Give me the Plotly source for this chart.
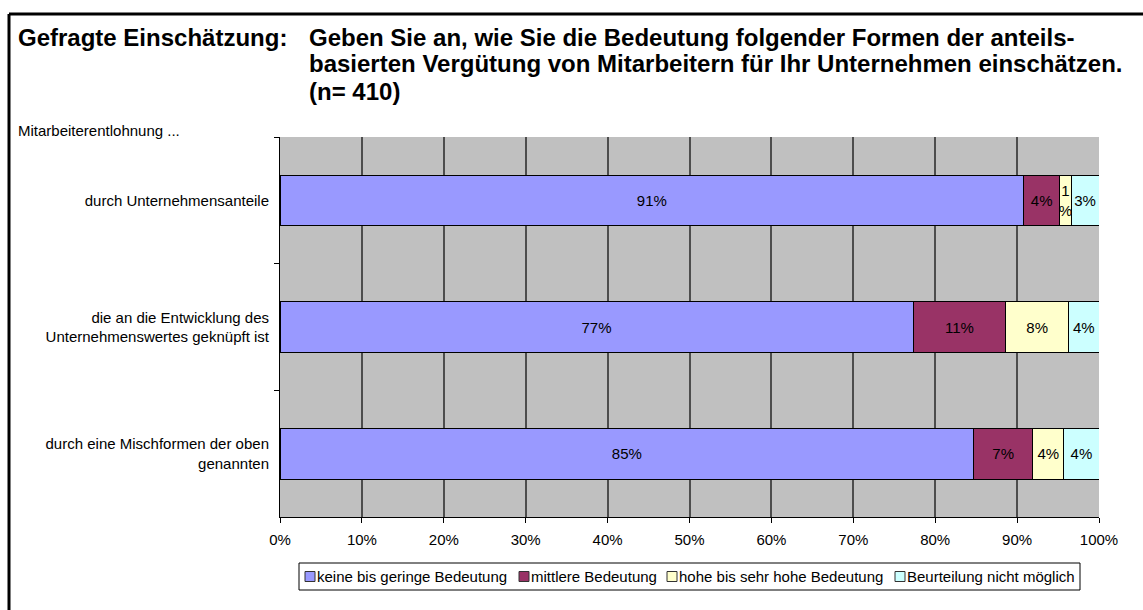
import plotly.graph_objects as go

# ---- data ----
categories = [
    "durch Unternehmensanteile",
    "die an die Entwicklung des<br>Unternehmenswertes geknüpft ist",
    "durch eine Mischformen der oben<br>genannten",
]
series_names = [
    "keine bis geringe Bedeutung",
    "mittlere Bedeutung",
    "hohe bis sehr hohe Bedeutung",
    "Beurteilung nicht möglich",
]
keine = [90.8, 77.3, 84.7]
mittlere = [4.4, 11.3, 7.2]
hohe = [1.4, 7.7, 3.8]
nicht_moeglich = [3.4, 3.7, 4.3]
x_ticks = [0, 10, 20, 30, 40, 50, 60, 70, 80, 90, 100]
x_tick_labels = ["0%", "10%", "20%", "30%", "40%", "50%", "60%", "70%", "80%", "90%", "100%"]

colors = ["#9999FF", "#993366", "#FFFFCC", "#CCFFFF"]
FONT = "Liberation Sans, Arial, sans-serif"

W, H = 1143, 610
ML, MR, MT, MB = 280, 44, 137, 93
PW = W - ML - MR
PH = H - MT - MB


def px2x(px):
    return (px - ML) / PW


def px2y(py):
    return (H - MB - py) / PH


def lab(v):
    r = round(v)
    return f"{r}%" if v >= 2 else f"{r}<br>%"


fig = go.Figure()
for name, vals, col in zip(series_names, [keine, mittlere, hohe, nicht_moeglich], colors):
    fig.add_trace(go.Bar(
        y=categories, x=vals, name=name, orientation="h",
        marker=dict(color=col, line=dict(color="black", width=1)),
        text=[lab(v) for v in vals], textposition="inside",
        insidetextanchor="middle", constraintext="none",
        textfont=dict(family=FONT, size=15, color="black"),
        hoverinfo="skip", showlegend=False,
    ))

fig.update_layout(
    width=W, height=H,
    barmode="stack", bargap=0.6,
    margin=dict(l=ML, r=MR, t=MT, b=MB, pad=0, autoexpand=False),
    paper_bgcolor="white", plot_bgcolor="#C0C0C0",
    font=dict(family=FONT, size=15, color="black"),
    showlegend=False,
    xaxis=dict(
        range=[0, 100], tickmode="array", tickvals=x_ticks, ticktext=x_tick_labels,
        showgrid=True, gridcolor="#4d4d4d", gridwidth=1.5,
        showline=True, linecolor="black", linewidth=1,
        ticks="outside", ticklen=5, tickcolor="black",
        ticklabelstandoff=4, zeroline=False, fixedrange=True,
    ),
    yaxis=dict(
        autorange="reversed", type="category",
        showgrid=False, showline=True, linecolor="black", linewidth=1,
        ticks="outside", tickson="boundaries", ticklen=5, tickcolor="black",
        ticklabelstandoff=7, fixedrange=True,
    ),
)

# title and header texts
title_lines = [
    "Geben Sie an, wie Sie die Bedeutung folgender Formen der anteils-",
    "basierten Vergütung von Mitarbeitern für Ihr Unternehmen einschätzen.",
    "(n= 410)",
]
ann = [dict(text="<b>Gefragte Einschätzung:</b>", x=px2x(16), y=px2y(37),
            xanchor="left", yanchor="middle")]
for i, t in enumerate(title_lines):
    ann.append(dict(text=f"<b>{t}</b>", x=px2x(307), y=px2y(37 + 27 * i),
                    xanchor="left", yanchor="middle"))
for a in ann:
    a.update(xref="paper", yref="paper", showarrow=False,
             font=dict(family=FONT, size=24, color="black"))
ann.append(dict(text="Mitarbeiterentlohnung ...", x=px2x(16), y=px2y(130),
                xref="paper", yref="paper", xanchor="left", yanchor="middle",
                showarrow=False, font=dict(family=FONT, size=15, color="black")))

# manual legend (single row, boxed)
leg_y0, leg_y1 = 563, 590
leg_cy = (leg_y0 + leg_y1) / 2
sym_x = [305, 519, 667, 895]
shapes = [dict(type="rect", xref="paper", yref="paper",
               x0=px2x(299), x1=px2x(1080), y0=px2y(leg_y1), y1=px2y(leg_y0),
               fillcolor="white", line=dict(color="black", width=1), layer="above")]
for sx, name, col in zip(sym_x, series_names, colors):
    shapes.append(dict(type="rect", xref="paper", yref="paper",
                       x0=px2x(sx), x1=px2x(sx + 10),
                       y0=px2y(leg_cy + 5), y1=px2y(leg_cy - 5),
                       fillcolor=col, line=dict(color="#333333", width=1), layer="above"))
    ann.append(dict(text=name, x=px2x(sx + 10), y=px2y(leg_cy),
                    xref="paper", yref="paper", xanchor="left", yanchor="middle",
                    showarrow=False, font=dict(family=FONT, size=15, color="black")))

# frame lines (top and left) of the slide box
shapes.append(dict(type="line", xref="paper", yref="paper",
                   x0=px2x(9), x1=px2x(W + 5), y0=px2y(14), y1=px2y(14),
                   line=dict(color="black", width=3)))
shapes.append(dict(type="line", xref="paper", yref="paper",
                   x0=px2x(9), x1=px2x(9), y0=px2y(14), y1=px2y(H + 5),
                   line=dict(color="black", width=3)))

fig.update_layout(annotations=ann, shapes=shapes)

fig.write_html("out.html", config={"displayModeBar": False},
               post_script="document.body.style.margin='0';")
